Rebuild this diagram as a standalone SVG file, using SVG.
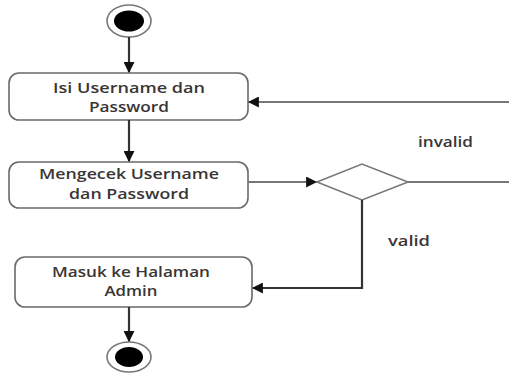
<svg xmlns="http://www.w3.org/2000/svg" width="509" height="373" viewBox="0 0 509 373">
<style>
.box{fill:#fff;stroke:#6a6a6a;stroke-width:1.6}
.t{font-family:"Open Sans","Liberation Sans",sans-serif;font-size:14px;font-weight:600;fill:#3a3535;text-anchor:middle}
.lbl{font-family:"Open Sans","Liberation Sans",sans-serif;font-size:14px;font-weight:600;fill:#3a3535}
.c{fill:none;stroke:#777;stroke-width:2.2}
.cd{fill:none;stroke:#333;stroke-width:2.2}
</style>
<defs>
<marker id="ah" viewBox="0 0 10 10" refX="9" refY="5" markerWidth="5" markerHeight="5" orient="auto" markerUnits="strokeWidth">
<path d="M0,0 L10,5 L0,10 Z" fill="#111"/>
</marker>
</defs>
<g id="start">
<ellipse cx="129" cy="21" rx="22" ry="16" fill="#fff" stroke="#777" stroke-width="1.6"/>
<ellipse cx="129" cy="21" rx="15" ry="10.5" fill="#000"/>
</g>
<g id="isi">
<rect class="box" x="9" y="73" width="239" height="47" rx="10"/>
<text class="t" x="129" y="93" textLength="152" lengthAdjust="spacingAndGlyphs">Isi Username dan</text>
<text class="t" x="129" y="112" textLength="80" lengthAdjust="spacingAndGlyphs">Password</text>
</g>
<g id="cek">
<rect class="box" x="9" y="162" width="239" height="46" rx="10"/>
<text class="t" x="129" y="179" textLength="180" lengthAdjust="spacingAndGlyphs">Mengecek Username</text>
<text class="t" x="129" y="199" textLength="120" lengthAdjust="spacingAndGlyphs">dan Password</text>
</g>
<g id="decision">
<path d="M317,182 L362,164 L408,182 L362,200 Z" fill="#fff" stroke="#777" stroke-width="1.6"/>
</g>
<g id="masuk">
<rect class="box" x="15" y="257" width="237" height="50" rx="10"/>
<text class="t" x="131" y="277" textLength="158" lengthAdjust="spacingAndGlyphs">Masuk ke Halaman</text>
<text class="t" x="131" y="296" textLength="53" lengthAdjust="spacingAndGlyphs">Admin</text>
</g>
<g id="end">
<ellipse cx="129" cy="357" rx="22" ry="15" fill="#fff" stroke="#777" stroke-width="1.6"/>
<ellipse cx="129" cy="357" rx="14" ry="10" fill="#000"/>
</g>
<g id="connectors">
<line class="cd" x1="129" y1="37" x2="129" y2="72" marker-end="url(#ah)"/>
<line class="cd" x1="129" y1="120" x2="129" y2="161" marker-end="url(#ah)"/>
<line class="c" x1="248" y1="182" x2="316" y2="182" marker-end="url(#ah)"/>
<line class="c" x1="408" y1="182" x2="509" y2="182"/>
<line class="c" x1="509" y1="102" x2="249" y2="102" marker-end="url(#ah)"/>
<polyline class="cd" points="362,200 362,288 253,288" marker-end="url(#ah)"/>
<line class="cd" x1="129" y1="307" x2="129" y2="341" marker-end="url(#ah)"/>
<text class="lbl" x="418" y="147" textLength="55" lengthAdjust="spacingAndGlyphs">invalid</text>
<text class="lbl" x="388" y="246" textLength="42" lengthAdjust="spacingAndGlyphs">valid</text>
</g>
</svg>
